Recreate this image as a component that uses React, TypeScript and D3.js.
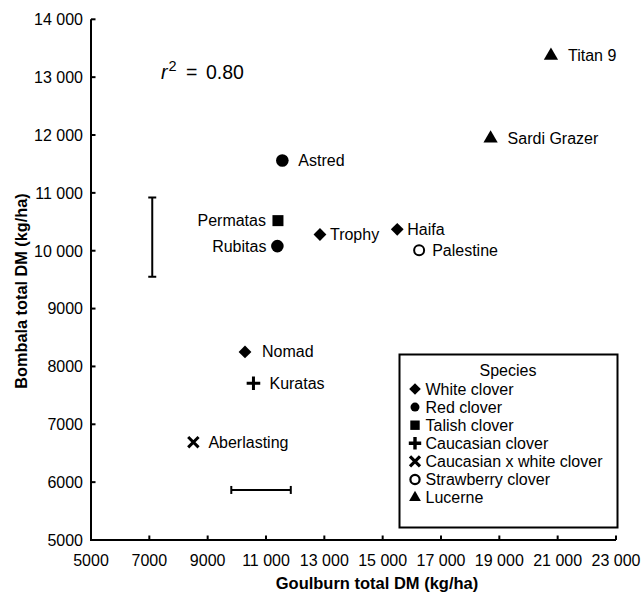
import React from "react";
import * as d3 from "d3";

// ---- data ----
const cultivars = ["Titan 9", "Sardi Grazer", "Astred", "Permatas", "Rubitas", "Trophy", "Haifa", "Palestine", "Nomad", "Kuratas", "Aberlasting"];
const goulburnDM = [20770, 18700, 11560, 11410, 11390, 12850, 15500, 16250, 10280, 10570, 8510];
const bombalaDM = [13370, 11940, 11560, 10520, 10080, 10280, 10370, 10010, 8250, 7710, 6690];
const cultivarSpecies = ["Lucerne", "Lucerne", "Red clover", "Talish clover", "Red clover", "White clover", "White clover", "Strawberry clover", "White clover", "Caucasian clover", "Caucasian x white clover"];
const speciesList = ["White clover", "Red clover", "Talish clover", "Caucasian clover", "Caucasian x white clover", "Strawberry clover", "Lucerne"];
const xTicks = [5000, 7000, 9000, 11000, 13000, 15000, 17000, 19000, 21000, 23000];
const yTicks = [5000, 6000, 7000, 8000, 9000, 10000, 11000, 12000, 13000, 14000];
// LSD bars
const lsdBombala = [7100, 9550, 10920]; // x, yLow, yHigh
const lsdGoulburn = [5865, 9810, 11850]; // y, xLow, xHigh
const rSquared = "0.80";

// ---- style (not data) ----
const labelPlacement: Record<string, [number, string]> = {
  "Titan 9": [17, "start"],
  "Sardi Grazer": [17, "start"],
  Astred: [16, "start"],
  Permatas: [-12, "end"],
  Rubitas: [-11, "end"],
  Trophy: [10, "start"],
  Haifa: [10, "start"],
  Palestine: [13, "start"],
  Nomad: [17, "start"],
  Kuratas: [16, "start"],
  Aberlasting: [15, "start"],
};

type Sz = { dia: number; circ: number; sq: number; plus: number; plusW: number; x: number; xW: number; open: number; openW: number; tri: number };
const plotSz: Sz = { dia: 6.4, circ: 6.3, sq: 5.5, plus: 6.8, plusW: 3, x: 5.2, xW: 3, open: 5, openW: 2, tri: 88 };
const legendSz: Sz = { dia: 5.8, circ: 4.5, sq: 4.7, plus: 6.2, plusW: 3.4, x: 5.0, xW: 3.2, open: 4.6, openW: 2.2, tri: 60 };

const FONT = "'Liberation Sans', Arial, sans-serif";

function Marker({ sp, x, y, z }: { sp: string; x: number; y: number; z: Sz }) {
  const t = `translate(${x},${y})`;
  if (sp === "White clover") {
    const r = z.dia;
    return <path transform={t} d={`M0,${-r}L${r},0L0,${r}L${-r},0Z`} fill="#000" />;
  }
  if (sp === "Red clover") return <circle cx={x} cy={y} r={z.circ} fill="#000" />;
  if (sp === "Talish clover") {
    const h = z.sq;
    return <rect x={x - h} y={y - h} width={2 * h} height={2 * h} fill="#000" />;
  }
  if (sp === "Caucasian clover") {
    const h = z.plus;
    return <path transform={t} d={`M${-h},0H${h}M0,${-h}V${h}`} stroke="#000" strokeWidth={z.plusW} fill="none" />;
  }
  if (sp === "Caucasian x white clover") {
    const h = z.x;
    return <path transform={t} d={`M${-h},${-h}L${h},${h}M${-h},${h}L${h},${-h}`} stroke="#000" strokeWidth={z.xW} fill="none" />;
  }
  if (sp === "Strawberry clover") return <circle cx={x} cy={y} r={z.open} fill="#fff" stroke="#000" strokeWidth={z.openW} />;
  const sym = d3.symbol().type(d3.symbolTriangle).size(z.tri)();
  return <path transform={t} d={sym || ""} fill="#000" />;
}

const fmt = (v: number) => {
  if (v >= 10000) {
    const th = Math.floor(v / 1000);
    return `${th} ${String(v % 1000).padStart(3, "0")}`;
  }
  return String(v);
};

export default function App() {
  const W = 643, H = 595;
  const x = d3.scaleLinear().domain([5000, 23000]).range([91, 616]);
  const y = d3.scaleLinear().domain([5000, 14000]).range([540, 19.3]);
  const x0 = x(5000), x1 = x(23000), y0 = y(5000), y1 = y(14000);

  return (
    <svg width={W} height={H} style={{ position: "absolute", left: 0, top: 0, background: "#fff" }} fontFamily={FONT}>
      <rect width={W} height={H} fill="#fff" />
      {/* axes */}
      <path d={`M${x0},${y1}V${y0}H${x1}`} fill="none" stroke="#000" strokeWidth={2} />
      {yTicks.map((v) => (
        <g key={"yt" + v}>
          <line x1={x0} x2={x0 + 4.5} y1={y(v)} y2={y(v)} stroke="#000" strokeWidth={2} />
          <text x={x0 - 8} y={y(v) + 5.8} textAnchor="end" fontSize={16} fill="#000">{fmt(v)}</text>
        </g>
      ))}
      {xTicks.map((v) => (
        <g key={"xt" + v}>
          <line x1={x(v)} x2={x(v)} y1={y0} y2={y0 - 4.5} stroke="#000" strokeWidth={2} />
          <text x={x(v)} y={566} textAnchor="middle" fontSize={16} fill="#000">{fmt(v)}</text>
        </g>
      ))}
      {/* axis titles */}
      <text x={377} y={589} textAnchor="middle" fontSize={16.5} fontWeight="bold" fill="#000">Goulburn total DM (kg/ha)</text>
      <text transform={`translate(27,291) rotate(-90)`} textAnchor="middle" fontSize={16.3} fontWeight="bold" fill="#000">Bombala total DM (kg/ha)</text>

      {/* r squared */}
      <g fontSize={19.5} fill="#000">
        <text x={161} y={79} fontStyle="italic">r</text>
        <text x={168.5} y={70.5} fontSize={14.5}>2</text>
        <text x={186} y={79}>=</text>
        <text x={206} y={79}>{rSquared}</text>
      </g>

      {/* LSD bars */}
      <g stroke="#000" strokeWidth={2} fill="none">
        <line x1={x(lsdBombala[0])} x2={x(lsdBombala[0])} y1={y(lsdBombala[1])} y2={y(lsdBombala[2])} />
        <line x1={x(lsdBombala[0]) - 4} x2={x(lsdBombala[0]) + 4} y1={y(lsdBombala[1])} y2={y(lsdBombala[1])} />
        <line x1={x(lsdBombala[0]) - 4} x2={x(lsdBombala[0]) + 4} y1={y(lsdBombala[2])} y2={y(lsdBombala[2])} />
        <line x1={x(lsdGoulburn[1])} x2={x(lsdGoulburn[2])} y1={y(lsdGoulburn[0])} y2={y(lsdGoulburn[0])} />
        <line x1={x(lsdGoulburn[1])} x2={x(lsdGoulburn[1])} y1={y(lsdGoulburn[0]) - 4} y2={y(lsdGoulburn[0]) + 4} />
        <line x1={x(lsdGoulburn[2])} x2={x(lsdGoulburn[2])} y1={y(lsdGoulburn[0]) - 4} y2={y(lsdGoulburn[0]) + 4} />
      </g>

      {/* points */}
      {cultivars.map((name, i) => {
        const px = x(goulburnDM[i]);
        const py = y(bombalaDM[i]);
        const [dx, anchor] = labelPlacement[name];
        return (
          <g key={name}>
            <Marker sp={cultivarSpecies[i]} x={px} y={py} z={plotSz} />
            <text x={px + dx} y={py + 5.5} textAnchor={anchor as any} fontSize={16} fill="#000">{name}</text>
          </g>
        );
      })}

      {/* legend */}
      <rect x={399.5} y={354.5} width={218} height={173} fill="#fff" stroke="#000" strokeWidth={2} />
      <text x={508} y={376} textAnchor="middle" fontSize={16} fill="#000">Species</text>
      {speciesList.map((sp, i) => {
        const cy = 389 + i * 18.1;
        return (
          <g key={sp}>
            <Marker sp={sp} x={415} y={cy} z={legendSz} />
            <text x={425.5} y={cy + 5.7} fontSize={16} fill="#000">{sp}</text>
          </g>
        );
      })}
    </svg>
  );
}
